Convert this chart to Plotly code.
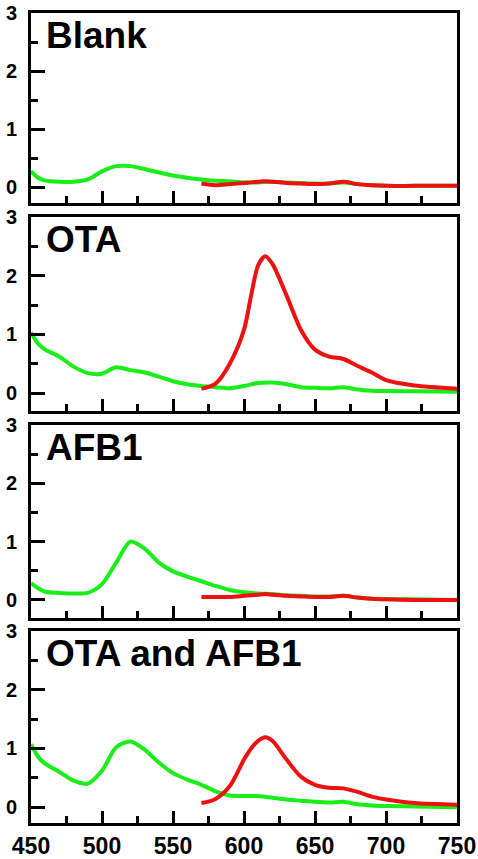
import plotly.graph_objects as go

# ---------------- data ----------------
wl_green = [450, 455, 460, 470, 480, 490, 500, 510, 520, 530, 540, 550, 560, 570, 580,
            590, 600, 610, 620, 630, 640, 650, 660, 670, 680, 690, 700, 720, 750]
wl_red = [570, 580, 590, 600, 605, 610, 615, 620, 630, 640, 650, 660, 670, 680, 690, 700, 720, 750]

panel_titles = ["Blank", "OTA", "AFB1", "OTA and AFB1"]

blank_green = [0.27, 0.16, 0.11, 0.09, 0.09, 0.13, 0.27, 0.36, 0.36, 0.31, 0.25, 0.20, 0.16, 0.13, 0.11,
               0.10, 0.08, 0.08, 0.09, 0.08, 0.07, 0.06, 0.06, 0.08, 0.05, 0.03, 0.02, 0.02, 0.02]
blank_red = [0.06, 0.03, 0.05, 0.07, 0.08, 0.09, 0.10, 0.09, 0.07, 0.06, 0.05, 0.06, 0.09, 0.05, 0.03, 0.02, 0.02, 0.02]

ota_green = [1.03, 0.84, 0.74, 0.62, 0.45, 0.34, 0.33, 0.44, 0.39, 0.35, 0.28, 0.20, 0.15, 0.12, 0.10,
             0.08, 0.12, 0.17, 0.18, 0.15, 0.10, 0.09, 0.08, 0.10, 0.06, 0.04, 0.035, 0.03, 0.02]
ota_red = [0.07, 0.16, 0.50, 1.08, 1.66, 2.18, 2.33, 2.20, 1.66, 1.08, 0.74, 0.62, 0.58, 0.46, 0.35, 0.22, 0.13, 0.075]

afb1_green = [0.29, 0.20, 0.14, 0.12, 0.11, 0.12, 0.27, 0.64, 1.00, 0.88, 0.64, 0.49, 0.40, 0.32, 0.24,
              0.17, 0.13, 0.11, 0.10, 0.08, 0.07, 0.06, 0.06, 0.07, 0.04, 0.02, 0.01, 0.01, 0.0]
afb1_red = [0.05, 0.05, 0.05, 0.07, 0.08, 0.09, 0.10, 0.09, 0.07, 0.06, 0.05, 0.05, 0.07, 0.04, 0.02, 0.01, 0.0, 0.0]

both_green = [1.07, 0.86, 0.74, 0.60, 0.45, 0.40, 0.62, 1.02, 1.12, 0.98, 0.76, 0.58, 0.47, 0.38, 0.27,
              0.20, 0.19, 0.19, 0.16, 0.13, 0.11, 0.09, 0.08, 0.09, 0.05, 0.03, 0.02, 0.01, 0.0]
both_red = [0.07, 0.14, 0.36, 0.81, 1.00, 1.13, 1.19, 1.13, 0.81, 0.52, 0.38, 0.33, 0.32, 0.26, 0.18, 0.13, 0.07, 0.04]

greens = [blank_green, ota_green, afb1_green, both_green]
reds = [blank_red, ota_red, afb1_red, both_red]

x_ticks = [450, 500, 550, 600, 650, 700, 750]
y_ticks = [0, 1, 2, 3]

# ---------------- layout ----------------
FONT = "Liberation Sans, Arial, sans-serif"
GREEN = "#19ee19"
RED = "#ee1111"

domains = [[0.7654, 1.0], [0.5086, 0.7481], [0.2531, 0.4914], [0.0, 0.2370]]
yranges = [[-0.276, 3.0], [-0.307, 3.0], [-0.31, 3.0], [-0.27, 3.0]]

fig = go.Figure()
layout = dict(
    width=478, height=859,
    margin=dict(l=31, r=21, t=13, b=36, autoexpand=False),
    paper_bgcolor="white", plot_bgcolor="white",
    showlegend=False,
    font=dict(family=FONT, color="black"),
    annotations=[],
)

for i in range(4):
    n = "" if i == 0 else str(i + 1)
    xa = "x" + n
    ya = "y" + n
    fig.add_trace(go.Scatter(x=wl_green, y=greens[i], mode="lines",
                             line=dict(color=GREEN, width=4, shape="spline", smoothing=0.8),
                             xaxis=xa, yaxis=ya))
    fig.add_trace(go.Scatter(x=wl_red, y=reds[i], mode="lines",
                             line=dict(color=RED, width=4, shape="spline", smoothing=0.8),
                             xaxis=xa, yaxis=ya))
    last = (i == 3)
    layout["xaxis" + n] = dict(
        domain=[0, 1], anchor=ya, range=[450, 750], automargin=False,
        showline=True, linecolor="black", linewidth=3, mirror=True,
        showgrid=False, zeroline=False,
        ticks="inside", ticklen=12, tickwidth=3, tickcolor="black",
        tickvals=x_ticks, ticktext=["<b>%d</b>" % v for v in x_ticks],
        showticklabels=last,
        tickfont=dict(family=FONT, size=23, color="black"),
        ticklabelstandoff=0,
        minor=dict(dtick=25, tick0=450, ticks="inside", ticklen=7, tickwidth=3, tickcolor="black", showgrid=False),
        fixedrange=True,
    )
    layout["yaxis" + n] = dict(
        domain=domains[i], anchor=xa, range=yranges[i], automargin=False,
        showline=True, linecolor="black", linewidth=3, mirror=True,
        showgrid=False, zeroline=False,
        ticks="inside", ticklen=14, tickwidth=3, tickcolor="black",
        tickvals=y_ticks, ticktext=["<b>%d</b>" % v for v in y_ticks],
        tickfont=dict(family=FONT, size=20, color="black"),
        ticklabelstandoff=7,
        minor=dict(dtick=0.5, tick0=0, ticks="inside", ticklen=7, tickwidth=3, tickcolor="black", showgrid=False),
        fixedrange=True,
    )
    layout["annotations"].append(dict(
        text="<b>%s</b>" % panel_titles[i], xref=xa + " domain", yref=ya,
        x=0.03, y=2.62, xanchor="left", yanchor="middle", showarrow=False,
        font=dict(family=FONT, size=37, color="black"),
    ))

fig.update_layout(**layout)
fig.write_html("out.html")
